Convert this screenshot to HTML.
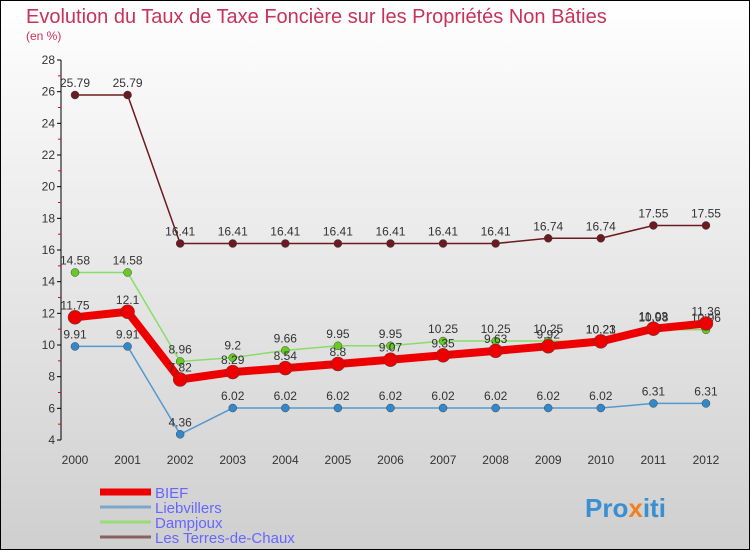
<!DOCTYPE html>
<html><head><meta charset="utf-8"><style>
body{margin:0;width:750px;height:550px;overflow:hidden;font-family:"Liberation Sans",sans-serif}
</style></head><body>
<svg width="750" height="550" xmlns="http://www.w3.org/2000/svg">
<defs><linearGradient id="bg" x1="0" y1="0" x2="0" y2="1"><stop offset="0" stop-color="#ffffff"/><stop offset="1" stop-color="#cfcfcf"/></linearGradient></defs>
<rect x="0.5" y="0.5" width="749" height="549" fill="url(#bg)" stroke="#000"/>
<text x="26" y="23" font-size="20" fill="#c8325a">Evolution du Taux de Taxe Foncière sur les Propriétés Non Bâties</text>
<text x="26" y="40" font-size="12" fill="#c8325a">(en %)</text>
<g id="axes"></g><g id="series"></g><g id="legend"></g>
<text x="585" y="517" font-size="26" font-weight="bold" fill="#3a8fd0">Pro<tspan fill="#f08020">x</tspan>iti</text>
</svg>
<script>
const years=["2000","2001","2002","2003","2004","2005","2006","2007","2008","2009","2010","2011","2012"];
const bief=[11.75,12.1,7.82,8.29,8.54,8.8,9.07,9.35,9.63,9.92,10.23,11.03,11.36];
const liebvillers=[9.91,9.91,4.36,6.02,6.02,6.02,6.02,6.02,6.02,6.02,6.02,6.31,6.31];
const dampjoux=[14.58,14.58,8.96,9.2,9.66,9.95,9.95,10.25,10.25,10.25,10.21,10.98,10.96];
const terres=[25.79,25.79,16.41,16.41,16.41,16.41,16.41,16.41,16.41,16.74,16.74,17.55,17.55];
const yTicks=[4,6,8,10,12,14,16,18,20,22,24,26,28];
const NS="http://www.w3.org/2000/svg";
const X=i=>75+i*52.58, Y=v=>440-(v-4)*15.833;
function mk(t,a,p){const e=document.createElementNS(NS,t);for(const k in a)e.setAttribute(k,a[k]);p.appendChild(e);return e;}
const ax=document.getElementById('axes');
let l=mk('line',{x1:61,y1:60,x2:61,y2:440,stroke:'#000'},ax);


yTicks.forEach(v=>{
 mk('line',{x1:57,y1:Y(v),x2:61,y2:Y(v),stroke:'#000'},ax);
 if(v<28) mk('line',{x1:58,y1:Y(v+1),x2:61,y2:Y(v+1),stroke:'#e00'},ax);
 const t=mk('text',{x:55,y:Y(v)+4,'font-size':12,'text-anchor':'end',fill:'#333'},ax);t.textContent=v;
 
 
});
years.forEach((y,i)=>{const t=mk('text',{x:X(i),y:464,'font-size':12,'text-anchor':'middle',fill:'#333'},ax);t.textContent=y;
 
 });
const S=document.getElementById('series');
const defs=[["les-terres-de-chaux",terres,'#6b1a1f','#6b1a1f',1.5,4],["dampjoux",dampjoux,'#88dd66','#66cc22',1.5,4],["liebvillers",liebvillers,'#5599cc','#3388cc',1.5,4],["bief",bief,'#ee0000','#ee0000',8,7]];
defs.forEach(([n,d,c,dc,w,r])=>{
 const g=mk('g',{},S);
 
 
 mk('polyline',{points:d.map((v,i)=>X(i)+','+Y(v)).join(' '),fill:'none',stroke:c,'stroke-width':w},g);
 d.forEach((v,i)=>{const p=mk('circle',{cx:X(i),cy:Y(v),r:r,fill:dc,stroke:'#444','stroke-width':0.5},g);
  
  
  const t=mk('text',{x:X(i),y:Y(v)-8,'font-size':12,'text-anchor':'middle',fill:'#333'},g);t.textContent=v;
  
  });
});
const L=document.getElementById('legend');
[["BIEF",'#ee0000',7],["Liebvillers",'#7aa8cc',3],["Dampjoux",'#99dd77',3],["Les Terres-de-Chaux",'#8a6060',3]].forEach(([n,c,w],i)=>{
 const y=492+i*15;
 const g=mk('g',{},L);
 
 
 mk('line',{x1:100,y1:y,x2:151,y2:y,stroke:c,'stroke-width':w},g);
 const t=mk('text',{x:155,y:y+6,'font-size':15,fill:'#6666ff'},g);t.textContent=n;
});
</script>
</body></html>
